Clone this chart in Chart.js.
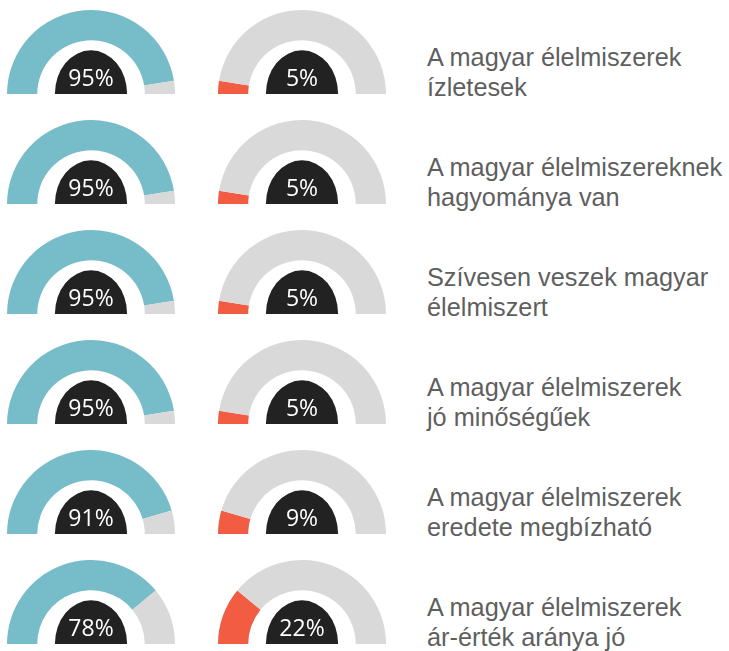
<!DOCTYPE html>
<html>
<head>
<meta charset="utf-8">
<script src="https://cdn.jsdelivr.net/npm/chart.js@4"></script>
<style>
  body { margin: 0; background: #fff; width: 729px; height: 651px; overflow: hidden; position: relative; }
  .gauge { position: absolute; width: 168px; height: 84px; }
  .label { position: absolute; left: 427px; font-family: 'Liberation Sans', Arial, sans-serif; font-size: 25.3px; line-height: 30px; color: #5f5f5f; white-space: nowrap; }
</style>
</head>
<body>
<script>
// adatok
const statements = [
  ['A magyar élelmiszerek', 'ízletesek'],
  ['A magyar élelmiszereknek', 'hagyománya van'],
  ['Szívesen veszek magyar', 'élelmiszert'],
  ['A magyar élelmiszerek', 'jó minőségűek'],
  ['A magyar élelmiszerek', 'eredete megbízható'],
  ['A magyar élelmiszerek', 'ár-érték aránya jó']
];
const agree = [95, 95, 95, 95, 91, 78];
const disagree = [5, 5, 5, 5, 9, 22];

const TEAL = '#77bcc9';
const RED = '#f15c43';
const GRAY = '#d9d9d9';

// fekete félkör + százalék a közepén
const centerLabel = {
  id: 'centerLabel',
  afterDatasetsDraw(chart) {
    const arc = chart.getDatasetMeta(0).data[0];
    const { x, y, outerRadius } = arc;
    const ctx = chart.ctx;
    ctx.save();
    ctx.fillStyle = '#222222';
    ctx.beginPath();
    ctx.ellipse(x, y, outerRadius * 0.43, outerRadius * 0.52, 0, Math.PI, 2 * Math.PI);
    ctx.closePath();
    ctx.fill();
    ctx.fillStyle = '#ffffff';
    ctx.font = '23px "Open Sans", sans-serif';
    ctx.textAlign = 'center';
    ctx.textBaseline = 'alphabetic';
    ctx.fillText(chart.data.datasets[0].data[0] + '%', x, y - 8);
    ctx.restore();
  }
};

function makeGauge(left, top, value, color) {
  const canvas = document.createElement('canvas');
  canvas.className = 'gauge';
  canvas.width = 168;
  canvas.height = 84;
  canvas.style.left = left + 'px';
  canvas.style.top = top + 'px';
  document.body.appendChild(canvas);
  return new Chart(canvas, {
    type: 'doughnut',
    data: {
      datasets: [{
        data: [value, 100 - value],
        backgroundColor: [color, GRAY],
        borderWidth: 0
      }]
    },
    options: {
      responsive: false,
      maintainAspectRatio: false,
      animation: false,
      rotation: -90,
      circumference: 180,
      cutout: '64%',
      layout: { padding: 0 },
      events: [],
      plugins: { legend: { display: false }, tooltip: { enabled: false } }
    },
    plugins: [centerLabel]
  });
}

statements.forEach((lines, i) => {
  const top = 10 + i * 110;
  makeGauge(6.5, top, agree[i], TEAL);
  makeGauge(218, top, disagree[i], RED);

  const div = document.createElement('div');
  div.className = 'label';
  div.style.top = (top + 32) + 'px';
  div.innerHTML = lines.join('<br>');
  document.body.appendChild(div);
});
</script>
</body>
</html>
